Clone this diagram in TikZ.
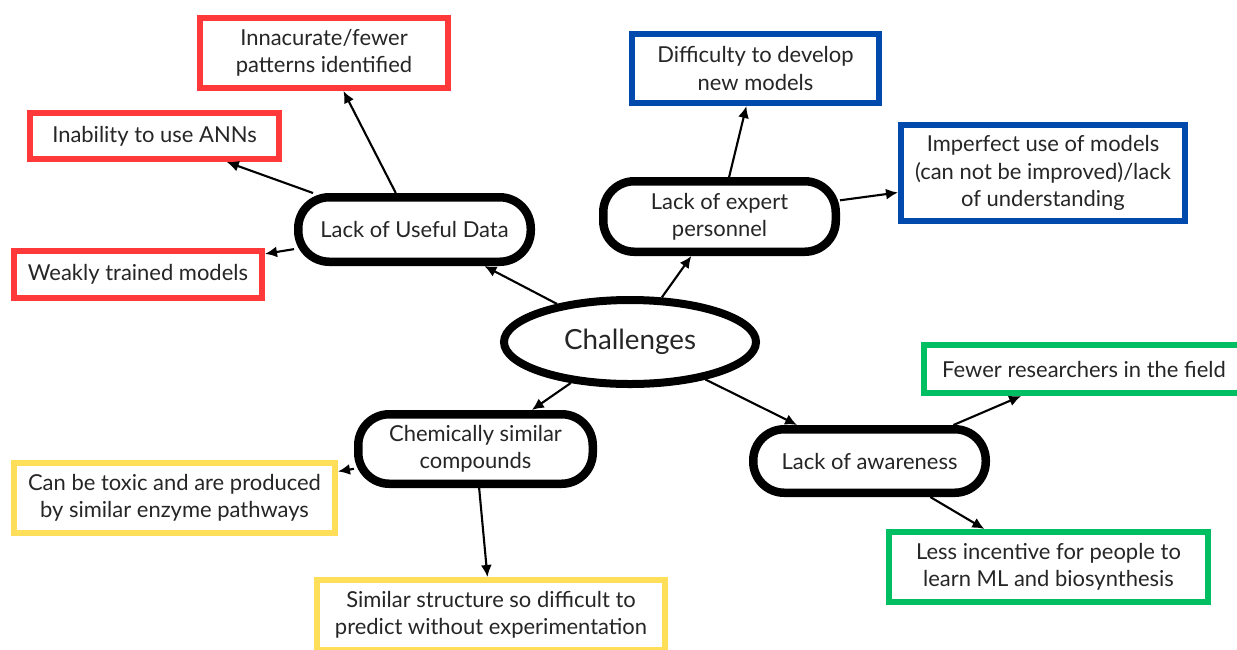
\documentclass[tikz,border=0pt]{standalone}
\usepackage{fontspec}
\setmainfont{Lato}
\usetikzlibrary{arrows.meta,shapes.geometric}
\definecolor{boxred}{RGB}{255,57,57}
\definecolor{boxblue}{RGB}{0,74,173}
\definecolor{boxyellow}{RGB}{255,222,89}
\definecolor{boxgreen}{RGB}{0,191,99}
\begin{document}
\begin{tikzpicture}[
  every node/.style={font=\fontsize{12.5}{15.5}\selectfont, align=center, text=black!85},
  topic/.style={draw=black, line width=0.17cm, rounded corners=0.62cm, fill=white},
  leaf/.style={draw=#1, line width=0.12cm, fill=white},
  link/.style={-{Latex[length=2.4mm,width=2.2mm]}, line width=1.2pt}
]
\useasboundingbox (0,0) rectangle (24.74,-12.98);
% centre
\node[ellipse, draw=black, line width=0.16cm, minimum width=5.04cm, minimum height=1.68cm, font=\fontsize{15.8}{19}\selectfont] (chal) at (12.60,-6.84) {Challenges};
% the four topics
\node[topic, minimum width=4.65cm, minimum height=1.29cm] (data) at (8.29,-4.59) {Lack of Useful Data};
\node[topic, minimum width=4.65cm, minimum height=1.41cm] (expert) at (14.39,-4.33) {Lack of expert\\personnel};
\node[topic, minimum width=4.69cm, minimum height=1.39cm] (chem) at (9.51,-8.98) {Chemically similar\\compounds};
\node[topic, minimum width=4.65cm, minimum height=1.27cm] (aware) at (17.39,-9.22) {Lack of awareness};
% red boxes
\node[leaf=boxred, minimum width=4.96cm, minimum height=1.40cm] (inacc) at (6.48,-1.06) {Innacurate/fewer\\patterns identified};
\node[leaf=boxred, minimum width=4.98cm, minimum height=0.92cm] (ann) at (3.09,-2.72) {Inability to use ANNs};
\node[leaf=boxred, minimum width=4.96cm, minimum height=0.94cm] (weak) at (2.76,-5.49) {Weakly trained models};
% blue boxes
\node[leaf=boxblue, minimum width=4.94cm, minimum height=1.38cm] (develop) at (15.11,-1.37) {Difficulty to develop\\new models};
\node[leaf=boxblue, minimum width=5.68cm, minimum height=1.92cm] (imperf) at (20.86,-3.46) {Imperfect use of models\\(can not be improved)/lack\\of understanding};
% yellow boxes
\node[leaf=boxyellow, minimum width=6.42cm, minimum height=1.40cm] (toxic) at (3.49,-9.96) {Can be toxic and are produced\\by similar enzyme pathways};
\node[leaf=boxyellow, minimum width=6.96cm, minimum height=1.40cm] (struct) at (9.82,-12.30) {Similar structure so difficult to\\predict without experimentation};
% green boxes
\node[leaf=boxgreen, minimum width=6.40cm, minimum height=0.96cm] (fewer) at (21.68,-7.38) {Fewer researchers in the field};
\node[leaf=boxgreen, minimum width=6.38cm, minimum height=1.40cm] (incent) at (20.97,-11.34) {Less incentive for people to\\learn ML and biosynthesis};
% arrows
\foreach \a/\b in {chal/data, chal/expert, chal/chem, chal/aware, data/inacc, data/ann, data/weak, expert/develop, expert/imperf, chem/toxic, chem/struct, aware/fewer, aware/incent}
\draw[link] (\a) -- (\b);
\end{tikzpicture}
\end{document}
